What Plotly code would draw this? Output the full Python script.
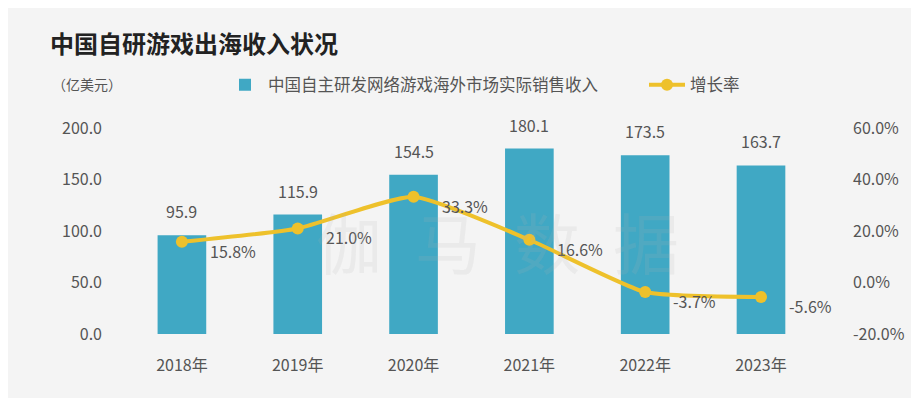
import plotly.graph_objects as go

years = ["2018年", "2019年", "2020年", "2021年", "2022年", "2023年"]
revenue = [95.9, 115.9, 154.5, 180.1, 173.5, 163.7]
growth = [15.8, 21.0, 33.3, 16.6, -3.7, -5.6]

left_ticks = [0, 50, 100, 150, 200]
right_ticks = [-20, 0, 20, 40, 60]
right_labels = ["-20.0%", "0.0%", "20.0%", "40.0%", "60.0%"]

FONT = "Noto Sans CJK SC"
TXT = "#555555"
BAR = "#40A8C4"
LINE = "#EEC12B"
BG = "#F4F4F4"

W, H = 911, 390   # page body has an 8px margin
OFF = 8

fig = go.Figure()
fig.add_trace(go.Bar(
    x=years, y=revenue, name="中国自主研发网络游戏海外市场实际销售收入",
    marker=dict(color=BAR, line=dict(width=0)), yaxis="y", legend="legend",
))
fig.add_trace(go.Scatter(
    x=years, y=growth, name="增长率", yaxis="y2", mode="lines+markers",
    line=dict(color=LINE, width=4, shape="spline", smoothing=0.5),
    marker=dict(color=LINE, size=12), legend="legend2",
))

for x, v in zip(years, revenue):
    fig.add_annotation(x=x, y=v, xref="x", yref="y", text=f"{v:.1f}",
                       showarrow=False, yanchor="bottom", yshift=10,
                       font=dict(size=16, color=TXT, family=FONT))
for x, g in zip(years, growth):
    fig.add_annotation(x=x, y=g, xref="x", yref="y2", text=f"{g:.1f}%",
                       showarrow=False, xanchor="left", yanchor="middle",
                       xshift=26, yshift=-9,
                       font=dict(size=16, color=TXT, family=FONT))

plot_l, plot_r, plot_t, plot_b = 124 - OFF, 834 - OFF, 128 - OFF, 334 - OFF
pw, ph = plot_r - plot_l, plot_b - plot_t

def px(x):
    return (x - OFF - plot_l) / pw

def py(y):
    return (plot_b - (y - OFF)) / ph

fig.add_annotation(xref="paper", yref="paper", x=px(50), y=py(84),
                   text="（亿美元）", showarrow=False, xanchor="left", yanchor="middle",
                   font=dict(size=14, color=TXT, family=FONT))
fig.add_annotation(xref="paper", yref="paper", x=px(497), y=py(190),
                   text="伽\u2002马\u2002数\u2002据", showarrow=False,
                   font=dict(size=66, color="rgba(175,175,175,0.14)", family=FONT))

legend_common = dict(orientation="h", xanchor="left", yanchor="middle", y=py(85),
                     font=dict(size=16.5, color=TXT, family=FONT),
                     bgcolor="rgba(0,0,0,0)", itemwidth=36)

fig.update_layout(
    width=W, height=H,
    margin=dict(l=plot_l, r=W - plot_r, t=plot_t, b=H - plot_b, pad=0),
    paper_bgcolor=BG, plot_bgcolor=BG,
    font=dict(family=FONT, color=TXT, size=16),
    bargap=0.58,
    showlegend=True,
    title=dict(text="<b>中国自研游戏出海收入状况</b>", x=(50 - OFF) / W, xanchor="left",
               y=1 - (45 - OFF) / H, yanchor="middle", xref="container", yref="container",
               font=dict(size=24, color="#222222", family=FONT)),
    legend=dict(x=px(222), **legend_common),
    legend2=dict(x=px(644), **legend_common),
    xaxis=dict(showgrid=False, showline=False, ticks="", ticklabelstandoff=20,
               tickfont=dict(size=16, color=TXT)),
    yaxis=dict(range=[0, 200], tickvals=left_ticks, tickformat=".1f", showgrid=False,
               zeroline=False, showline=False, ticks="", ticklabelstandoff=21,
               tickfont=dict(size=16, color=TXT)),
    yaxis2=dict(range=[-20, 60], tickvals=right_ticks, ticktext=right_labels,
                overlaying="y", side="right", showgrid=False, zeroline=False,
                showline=False, ticks="", ticklabelstandoff=18,
                tickfont=dict(size=16, color=TXT)),
)

fig.write_html("out.html")
